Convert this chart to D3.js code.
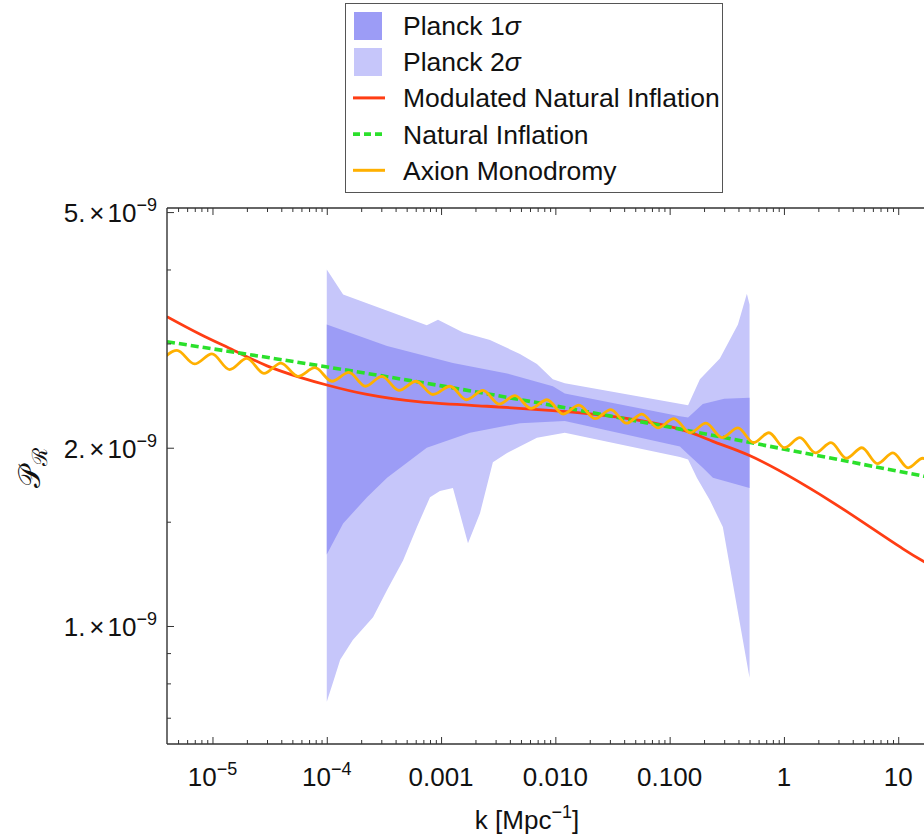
<!DOCTYPE html>
<html>
<head>
<meta charset="utf-8">
<script src="https://cdn.jsdelivr.net/npm/d3@7"></script>
<style>
  body { margin: 0; background: #fff; }
  svg { display: block; font-family: "Liberation Sans", Arial, sans-serif; }
</style>
</head>
<body>
<svg id="chart" width="924" height="836"></svg>
<script>
// axis ticks
const xMajor = [1e-5, 1e-4, 1e-3, 1e-2, 1e-1, 1, 10];
const xTickBase = ["10", "10", "0.001", "0.010", "0.100", "1", "10"];
const xTickExp = ["\u22125", "\u22124", "", "", "", "", ""];
const yMajor = [1, 2, 5];           // units of 1e-9
const yTickBase = ["1.", "2.", "5."];
const yMinor = [0.7, 0.8, 0.9, 1.5, 3, 4];

// Planck 2 sigma band (k in Mpc^-1, P in 1e-9)
const k2Up = [1.0e-4, 1.39e-4, 7.5e-4, 9.4e-4, 1.56e-3, 2.68e-3, 4.9e-3, 6.9e-3, 9.5e-3, 1.21e-2, 0.145, 0.184, 0.275, 0.396, 0.474, 0.50];
const p2Up = [4.00, 3.63, 3.22, 3.29, 3.13, 3.04, 2.88, 2.77, 2.61, 2.57, 2.36, 2.61, 2.83, 3.23, 3.64, 3.49];
const k2Lo = [1.0e-4, 1.15e-4, 1.31e-4, 1.69e-4, 2.54e-4, 3.37e-4, 4.65e-4, 6.15e-4, 8.0e-4, 9.77e-4, 1.27e-3, 1.72e-3, 2.19e-3, 2.84e-3, 3.78e-3, 6.9e-3, 1.21e-2, 0.123, 0.145, 0.173, 0.225, 0.292, 0.50];
const p2Lo = [0.745, 0.81, 0.877, 0.947, 1.035, 1.15, 1.29, 1.47, 1.65, 1.69, 1.71, 1.38, 1.55, 1.89, 1.96, 2.08, 2.12, 1.93, 1.91, 1.78, 1.63, 1.47, 0.818];

// Planck 1 sigma band
const k1Up = [1.0e-4, 3.37e-4, 1.27e-3, 3.78e-3, 9.5e-3, 1.21e-2, 0.123, 0.145, 0.195, 0.30, 0.50];
const p1Up = [3.23, 2.97, 2.78, 2.67, 2.54, 2.47, 2.26, 2.25, 2.37, 2.42, 2.43];
const k1Lo = [1.0e-4, 1.39e-4, 2.25e-4, 3.37e-4, 7.5e-4, 1.79e-3, 4.9e-3, 1.21e-2, 0.123, 0.145, 0.195, 0.239, 0.50];
const p1Lo = [1.32, 1.49, 1.65, 1.78, 2.00, 2.12, 2.20, 2.22, 2.01, 1.95, 1.85, 1.78, 1.71];

// Modulated Natural Inflation
const kMod = [4.0e-6, 7.8e-6, 1.54e-5, 3.0e-5, 5.84e-5, 1.02e-4, 2.25e-4, 6.55e-4, 2.52e-3, 9.5e-3, 0.0367, 0.123, 0.239, 0.50, 1.30, 3.56, 11.0, 23];
const pMod = [3.33, 3.11, 2.92, 2.75, 2.63, 2.55, 2.46, 2.39, 2.35, 2.31, 2.25, 2.15, 2.05, 1.94, 1.76, 1.56, 1.35, 1.24];

// Natural Inflation
const kNat = [4.0e-6, 6.55e-4, 0.123, 16.8, 23];
const pNat = [3.02, 2.58, 2.15, 1.79, 1.77];

// Axion Monodromy (peaks and troughs)
const kAx = [3.44e-6, 4.89e-6, 6.96e-6, 9.90e-6, 1.41e-5, 2.00e-5, 2.82e-5, 3.97e-5, 5.60e-5, 7.88e-5,
  1.11e-4, 1.56e-4, 2.18e-4, 3.04e-4, 4.28e-4, 6.03e-4, 8.49e-4, 1.20e-3, 1.67e-3, 2.33e-3,
  3.21e-3, 4.43e-3, 6.12e-3, 8.45e-3, 1.17e-2, 1.61e-2, 2.22e-2, 3.06e-2, 4.19e-2, 5.72e-2,
  7.90e-2, 0.109, 0.151, 0.208, 0.287, 0.396, 0.541, 0.739, 1.01, 1.38,
  1.89, 2.58, 3.52, 4.81, 6.58, 8.99, 12.2, 16.4, 22.2];
const pAx = [2.79, 2.92, 2.77, 2.88, 2.71, 2.83, 2.67, 2.78, 2.64, 2.73,
  2.59, 2.68, 2.54, 2.64, 2.50, 2.59, 2.46, 2.54, 2.41, 2.50,
  2.37, 2.45, 2.33, 2.41, 2.28, 2.36, 2.24, 2.32, 2.20, 2.28,
  2.16, 2.24, 2.12, 2.20, 2.08, 2.16, 2.04, 2.12, 2.00, 2.08,
  1.96, 2.04, 1.92, 2.00, 1.88, 1.96, 1.85, 1.92, 1.81];

const legendNames = ["Planck 1", "Planck 2", "Modulated Natural Inflation", "Natural Inflation", "Axion Monodromy"];

const col1s = "#9c9cf6";
const col2s = "#c6c6fa";
const colMod = "#ff3d14";
const colNat = "#2be02b";
const colAx = "#ffb000";
const frameCol = "#333";

const plot = { left: 167, right: 940, top: 208, bottom: 744 };

const svg = d3.select("#chart");

const x = d3.scaleLog().domain([4.0e-6, 23.2]).range([plot.left, plot.right]);
const y = d3.scaleLog().domain([0.632, 5.08]).range([plot.bottom, plot.top]);

svg.append("defs").append("clipPath").attr("id", "plot-clip")
    .append("rect")
    .attr("x", plot.left).attr("y", plot.top)
    .attr("width", plot.right - plot.left).attr("height", plot.bottom - plot.top);

const plotG = svg.append("g").attr("clip-path", "url(#plot-clip)");

const pairs = (ks, ps) => ks.map((k, i) => [k, ps[i]]);
const straight = d3.line().x(d => x(d[0])).y(d => y(d[1]));

function bandPath(kU, pU, kL, pL) {
    const pts = pairs(kU, pU).concat(pairs(kL, pL).reverse());
    return straight(pts) + "Z";
}

// bands
plotG.append("path").attr("d", bandPath(k2Up, p2Up, k2Lo, p2Lo)).attr("fill", col2s);
plotG.append("path").attr("d", bandPath(k1Up, p1Up, k1Lo, p1Lo)).attr("fill", col1s);

// curves
const spline = d3.line().x(d => x(d[0])).y(d => y(d[1])).curve(d3.curveNatural);
const wave = d3.line().x(d => x(d[0])).y(d => y(d[1])).curve(d3.curveMonotoneX);

plotG.append("path").attr("d", spline(pairs(kMod, pMod)))
    .attr("fill", "none").attr("stroke", colMod).attr("stroke-width", 2.8);
plotG.append("path").attr("d", spline(pairs(kNat, pNat)))
    .attr("fill", "none").attr("stroke", colNat).attr("stroke-width", 3.6)
    .attr("stroke-dasharray", "8,4");
plotG.append("path").attr("d", wave(pairs(kAx, pAx)))
    .attr("fill", "none").attr("stroke", colAx).attr("stroke-width", 2.8);

// frame
const frame = svg.append("g").attr("stroke", frameCol).attr("stroke-width", 1.4);
frame.append("line").attr("x1", plot.left).attr("x2", plot.left).attr("y1", plot.top).attr("y2", plot.bottom);
frame.append("line").attr("x1", plot.left).attr("x2", plot.right).attr("y1", plot.bottom).attr("y2", plot.bottom);
frame.append("line").attr("x1", plot.left).attr("x2", plot.right).attr("y1", plot.top).attr("y2", plot.top);

// minor x ticks
const xMinor = [];
for (let e = -6; e <= 1; e++) {
    for (let m = 2; m <= 9; m++) xMinor.push(m * Math.pow(10, e));
}
const xMinorIn = xMinor.filter(v => v > x.domain()[0] && v < x.domain()[1]);

function tickAxis(axis, tr) {
    svg.append("g")
        .attr("transform", tr)
        .attr("color", frameCol)
        .call(axis)
        .call(g => g.select(".domain").remove())
        .call(g => g.selectAll("line").attr("stroke-width", 1));
}

tickAxis(d3.axisBottom(x).tickValues(xMajor).tickSize(-7).tickFormat(""), `translate(0,${plot.bottom})`);
tickAxis(d3.axisBottom(x).tickValues(xMinorIn).tickSize(-4).tickFormat(""), `translate(0,${plot.bottom})`);
tickAxis(d3.axisTop(x).tickValues(xMajor).tickSize(-7).tickFormat(""), `translate(0,${plot.top})`);
tickAxis(d3.axisTop(x).tickValues(xMinorIn).tickSize(-4).tickFormat(""), `translate(0,${plot.top})`);
tickAxis(d3.axisLeft(y).tickValues(yMajor).tickSize(-7).tickFormat(""), `translate(${plot.left},0)`);
tickAxis(d3.axisLeft(y).tickValues(yMinor).tickSize(-4).tickFormat(""), `translate(${plot.left},0)`);

// x tick labels
xMajor.forEach((v, i) => {
    const t = svg.append("text")
        .attr("x", x(v)).attr("y", 786)
        .attr("text-anchor", "middle")
        .attr("font-size", 26).attr("fill", "#111");
    t.append("tspan").text(xTickBase[i]);
    if (xTickExp[i]) {
        t.append("tspan").attr("dy", -11).attr("font-size", 18).text(xTickExp[i]);
    }
});

// y tick labels
yMajor.forEach((v, i) => {
    const t = svg.append("text")
        .attr("x", 157).attr("y", y(v) + 10)
        .attr("text-anchor", "end")
        .attr("font-size", 26).attr("fill", "#111");
    t.append("tspan").text(yTickBase[i]);
    t.append("tspan").attr("dx", 4).text("\u00d7");
    t.append("tspan").attr("dx", 3).text("10");
    t.append("tspan").attr("dy", -11).attr("font-size", 18).text("\u22129");
});

// axis titles
const xt = svg.append("text")
    .attr("x", 527).attr("y", 829)
    .attr("text-anchor", "middle")
    .attr("font-size", 26).attr("fill", "#111");
xt.append("tspan").text("k [Mpc");
xt.append("tspan").attr("dy", -11).attr("font-size", 18).text("\u22121");
xt.append("tspan").attr("dy", 11).text("]");

const yt = svg.append("text")
    .attr("transform", "translate(40,468) rotate(-90)")
    .attr("text-anchor", "middle")
    .attr("font-size", 30).attr("fill", "#111");
yt.append("tspan").text("\ud835\udcab");
yt.append("tspan").attr("dy", 7).attr("font-size", 21).text("\u211b");

// legend
const leg = svg.append("g");
leg.append("rect")
    .attr("x", 345.5).attr("y", 3.5).attr("width", 377).attr("height", 189)
    .attr("fill", "#fff").attr("stroke", "#555").attr("stroke-width", 1);

const rowY = d => 35 + d * 36.2;

leg.append("rect").attr("x", 354).attr("y", 12).attr("width", 28).attr("height", 28).attr("fill", col1s);
leg.append("rect").attr("x", 354).attr("y", 48).attr("width", 28).attr("height", 28).attr("fill", col2s);
leg.append("line").attr("x1", 353).attr("x2", 385).attr("y1", rowY(2) - 9.5).attr("y2", rowY(2) - 9.5)
    .attr("stroke", colMod).attr("stroke-width", 3);
leg.append("line").attr("x1", 353).attr("x2", 385).attr("y1", rowY(3) - 9.5).attr("y2", rowY(3) - 9.5)
    .attr("stroke", colNat).attr("stroke-width", 3.6).attr("stroke-dasharray", "7,4");
leg.append("line").attr("x1", 353).attr("x2", 385).attr("y1", rowY(4) - 9.5).attr("y2", rowY(4) - 9.5)
    .attr("stroke", colAx).attr("stroke-width", 3);

legendNames.forEach((name, i) => {
    const t = leg.append("text")
        .attr("x", 403).attr("y", rowY(i))
        .attr("font-size", 26.5).attr("fill", "#111");
    t.append("tspan").text(name);
    if (i < 2) t.append("tspan").attr("font-style", "italic").text("\u03c3");
});
</script>
</body>
</html>
